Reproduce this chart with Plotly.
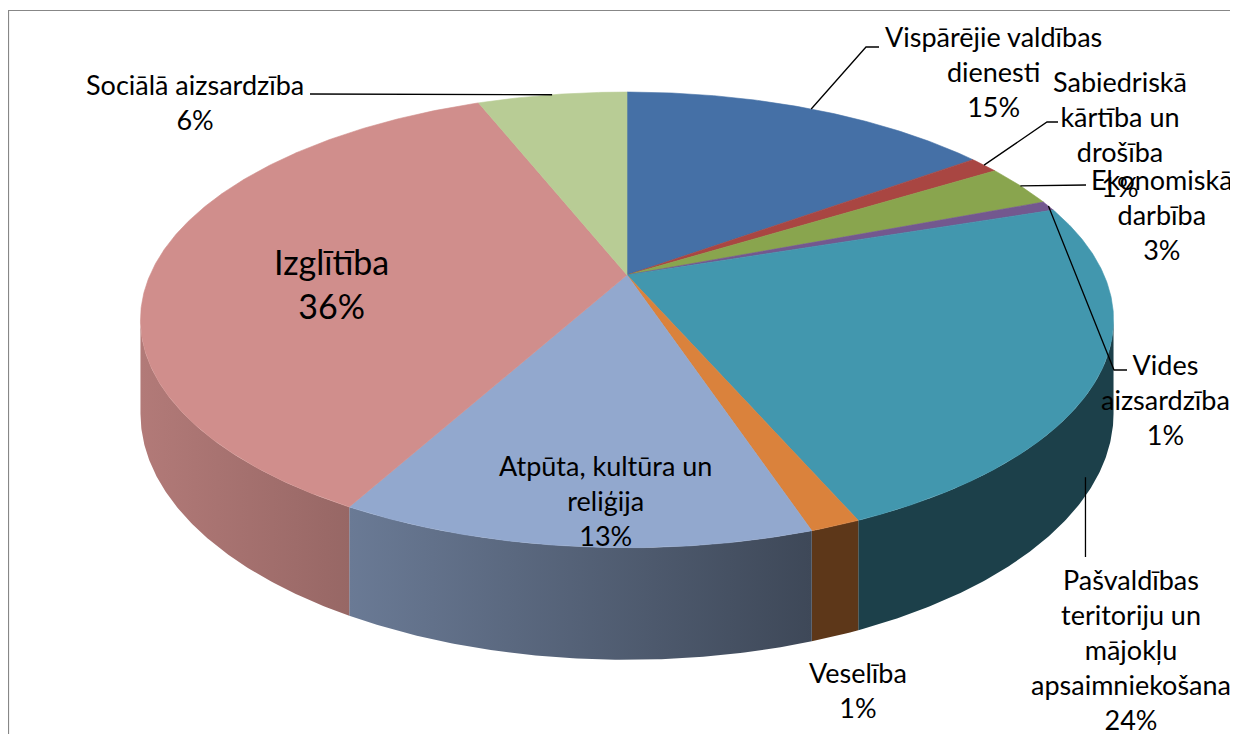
import numpy as np
import plotly.graph_objects as go

# ---------------- data ----------------
categories = [
    "Vispārējie valdības dienesti",
    "Sabiedriskā kārtība un drošība",
    "Ekonomiskā darbība",
    "Vides aizsardzība",
    "Pašvaldības teritoriju un mājokļu apsaimniekošana",
    "Veselība",
    "Atpūta, kultūra un reliģija",
    "Izglītība",
    "Sociālā aizsardzība",
]
values = [15.0, 1.2, 3.0, 0.7, 23.6, 1.4, 13.1, 36.0, 6.0]
label_lines = [
    "Vispārējie valdības<br>dienesti",
    "Sabiedriskā<br>kārtība un<br>drošība",
    "Ekonomiskā<br>darbība",
    "Vides<br>aizsardzība",
    "Pašvaldības<br>teritoriju un<br>mājokļu<br>apsaimniekošana",
    "Veselība",
    "Atpūta, kultūra un<br>reliģija",
    "Izglītība",
    "Sociālā aizsardzība",
]

# ---------------- style / layout ----------------
top_colors = ["#4570A6", "#A94642", "#89A54E", "#73588F", "#4297AE",
              "#DA823C", "#92A8CE", "#D08E8C", "#B8CC95"]
CX, CY = 627.0, 275.0      # apex of the pie (pixels)
RX, RY = 477.0, 219.0      # radius scale
P = 0.197                  # perspective strength
H = 90.0                   # thickness
VIS_MIN, VIS_MAX = 101.4, 258.6   # visible side range (deg)

# page body has an 8px margin: figure spans page pixels 8..1230 x 8..734
FIG_W, FIG_H, OFF = 1222, 726, 8

# label block centres, font sizes and leader elbows (layout only)
label_pos = [(993, 71), (1120, 134), (1162, 214), (1165, 399), (1131, 649),
             (858, 690), (605, 500), (331, 283), (195, 102)]
label_size = [27, 27, 27, 27, 27, 27, 27, 34, 27]
leaders = {
    0: ("top", [(866, 47), (879, 47)]),
    1: ("top", [(1047, 122), (1058, 122)]),
    2: ("top", [(1086, 185)]),
    3: ("top", [(1114, 370), (1127, 370)]),
    4: ("bottom", "down557"),
    8: ("top", [(310, 94)]),
}


def proj(theta_deg, bottom=False):
    th = np.radians(theta_deg)
    u = np.sin(th)
    v = -np.cos(th)
    w = 1 - P * v
    x = CX + RX * u / w
    y = CY + RY * v / w
    if bottom:
        y = y + H / w
    return x, y


def hex2rgb(h):
    h = h.lstrip("#")
    return tuple(int(h[i:i + 2], 16) for i in (0, 2, 4))


def shade(hexcol, x):
    f = 0.86 - 0.43 * (x - 145.0) / 665.0
    f = min(max(f, 0.43), 0.86)
    r, g, b = hex2rgb(hexcol)
    return f"rgb({int(r * f)},{int(g * f)},{int(b * f)})"


total = sum(values)
cum = np.concatenate([[0], np.cumsum(values)]) / total * 360.0

fig = go.Figure()

# ---- side walls ----
for i in range(len(values)):
    a1, a2 = max(cum[i], VIS_MIN), min(cum[i + 1], VIS_MAX)
    if a2 <= a1:
        continue
    n = max(int((a2 - a1) / 0.4), 2)
    th = np.linspace(a1, a2, n)
    xt, yt = proj(th)
    xb, yb = proj(th[::-1], bottom=True)
    xs = np.concatenate([xt, xb, xt[:1]])
    ys = np.concatenate([yt, yb, yt[:1]])
    fig.add_trace(go.Scatter(
        x=xs, y=ys, mode="lines", fill="toself", line=dict(width=0),
        fillgradient=dict(type="horizontal",
                          colorscale=[[0, shade(top_colors[i], xs.min())],
                                      [1, shade(top_colors[i], xs.max())]]),
        hoverinfo="skip", showlegend=False))

# ---- top faces ----
for i in range(len(values)):
    a1, a2 = cum[i], cum[i + 1]
    n = max(int((a2 - a1) / 0.4), 2)
    th = np.linspace(a1, a2, n)
    xt, yt = proj(th)
    xs = np.concatenate([[CX], xt, [CX]])
    ys = np.concatenate([[CY], yt, [CY]])
    fig.add_trace(go.Scatter(
        x=xs, y=ys, mode="lines", fill="toself", fillcolor=top_colors[i],
        line=dict(width=0.6, color=top_colors[i]),
        hoverinfo="skip", showlegend=False))

# ---- leader lines ----
for i, (kind, pts) in leaders.items():
    mid = (cum[i] + cum[i + 1]) / 2
    ax, ay = proj(mid, bottom=(kind == "bottom"))
    if pts == "down557":
        ax = ax - 15
        ay = ay + 7
        pts = [(ax, 557)]
    xs = [ax] + [p[0] for p in pts]
    ys = [ay] + [p[1] for p in pts]
    fig.add_trace(go.Scatter(x=xs, y=ys, mode="lines",
                             line=dict(color="black", width=1.3),
                             hoverinfo="skip", showlegend=False))

# ---- labels ----
for i in range(len(values)):
    pct = f"{round(values[i] / total * 100)}%"
    x, y = label_pos[i]
    fig.add_annotation(x=x, y=y, xref="x", yref="y",
                       text=f"{label_lines[i]}<br>{pct}", showarrow=False,
                       align="center", xanchor="center", yanchor="middle",
                       font=dict(family="Lato, Calibri, sans-serif",
                                 size=label_size[i], color="black"))

fig.add_shape(type="rect", xref="x", yref="y", x0=8.5, y0=10.5, x1=1300, y1=800,
              line=dict(color="#878787", width=1.2), layer="above")

fig.update_layout(
    width=FIG_W, height=FIG_H,
    margin=dict(l=0, r=0, t=0, b=0),
    paper_bgcolor="white", plot_bgcolor="white",
    xaxis=dict(range=[OFF, OFF + FIG_W], visible=False, fixedrange=True),
    yaxis=dict(range=[OFF + FIG_H, OFF], visible=False, fixedrange=True),
    showlegend=False, hovermode=False,
)

fig.write_html("out.html")
